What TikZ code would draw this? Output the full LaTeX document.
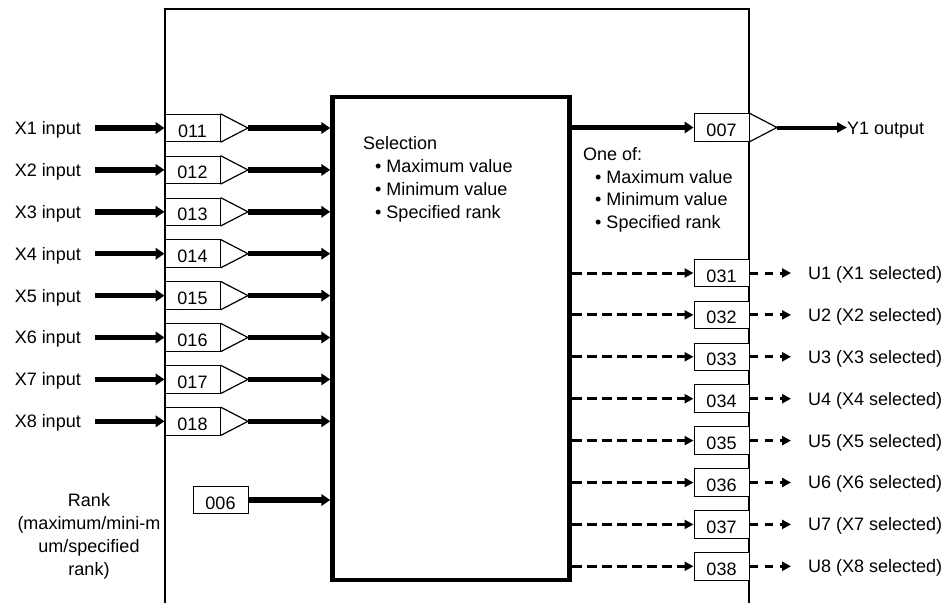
\documentclass[tikz,border=0pt]{standalone}
\usepackage{fontspec}
\setmainfont{Liberation Sans}
\usetikzlibrary{arrows.meta}
\begin{document}
\begin{tikzpicture}[x=1pt,y=-1pt,
  font=\fontsize{18}{23}\selectfont,
  lab/.style={inner sep=0pt},
  numbox/.style={draw, line width=1pt, fill=white, minimum width=55pt, minimum height=27.5pt,
    inner sep=0pt, text height=18pt, text depth=0pt},
  amp/.style={draw, line width=1.2pt, line join=miter},
  frame/.style={line width=1.6pt},
  selbox/.style={draw, line width=4.5pt, minimum width=237pt, minimum height=483pt, inner sep=0pt},
  fatarrow/.style={line width=5.5pt, -{Triangle[length=9pt,width=11.5pt]}},
  outarrow/.style={line width=4pt, -{Triangle[length=10pt,width=10pt]}},
  dasharrow/.style={line width=3pt, dash pattern=on 10pt off 5pt, -{Triangle[length=9pt,width=9pt]}},
  dashout/.style={line width=3pt, dash pattern=on 8pt off 7pt, -{Triangle[length=9pt,width=9pt]}}
]
\useasboundingbox (0,0) rectangle (950,603);

% outer frame
\draw[frame] (165,603) -- (165,9) -- (749,9) -- (749,603);

% selection block
\node[selbox] (sel) at (451,338.5) {};
\node[lab, anchor=base west] (seltitle) at (363,149.5) {Selection};
\node[lab, anchor=base west] (sel1) at (375,172.5) {\textbullet\ Maximum value};
\node[lab, anchor=base west] (sel2) at (375,195.5) {\textbullet\ Minimum value};
\node[lab, anchor=base west] (sel3) at (375,218.5) {\textbullet\ Specified rank};

% inputs
\foreach \i/\y in {1/128,2/169.9,3/211.8,4/253.7,5/295.6,6/337.5,7/379.4,8/421.3}{
  \node[lab, anchor=base east] (xl\i) at (81,\y+6.4) {X\i\ input};
  \coordinate (s\i) at (95,\y);
  \node[numbox] (in\i) at (192.5,\y) {01\i};
  \coordinate (t\i) at (248,\y);
  \draw[amp] (in\i.north east) -- (t\i) -- (in\i.south east);
  \draw[fatarrow] (s\i) -- (in\i.west);
  \draw[fatarrow] (t\i) -- (t\i -| sel.west);
}

% rank input
\node[numbox] (r6) at (220.5,500) {006};
\draw[fatarrow] (r6.east) -- (r6.east -| sel.west);
\node[lab, align=center, anchor=center] (ranklab) at (89,536.5)
  {Rank\\(maximum/mini-m\\um/specified\\rank)};

% main output
\node[numbox] (o7) at (721.5,127.5) {007};
\coordinate (ta) at (777,127.5);
\draw[amp] (o7.north east) -- (ta) -- (o7.south east);
\draw[fatarrow] (sel.east |- o7) -- (o7.west);
\coordinate (ytip) at (847,127.5);
\draw[outarrow] (ta) -- (ytip);
\node[lab, anchor=base west] (ylab) at (847,134) {Y1 output};

\node[lab, anchor=base west] (oneof) at (583,160) {One of:};
\node[lab, anchor=base west] (one1) at (595,183) {\textbullet\ Maximum value};
\node[lab, anchor=base west] (one2) at (595,205.5) {\textbullet\ Minimum value};
\node[lab, anchor=base west] (one3) at (595,228) {\textbullet\ Specified rank};

% selected flags
\foreach \i/\y in {1/273,2/314.9,3/356.8,4/398.7,5/440.6,6/482.5,7/524.4,8/566.3}{
  \node[numbox] (o\i) at (721.5,\y) {03\i};
  \draw[dasharrow] (sel.east |- o\i) -- (o\i.west);
  \coordinate (u\i) at (791,\y);
  \draw[dashout] (o\i.east) -- (u\i);
  \node[lab, anchor=base west] (ul\i) at (808,\y+6.4) {U\i\ (X\i\ selected)};
}
\end{tikzpicture}
\end{document}
